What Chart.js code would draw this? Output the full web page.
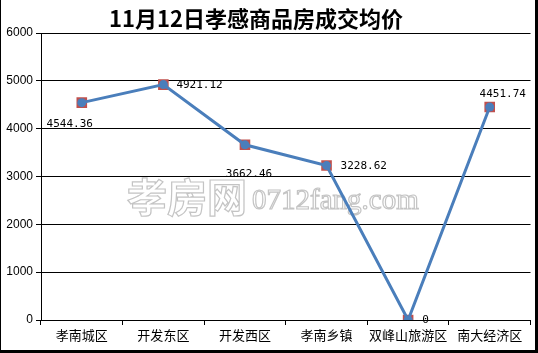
<!DOCTYPE html>
<html>
<head>
<meta charset="utf-8">
<script src="https://cdn.jsdelivr.net/npm/chart.js@4/dist/chart.umd.min.js"></script>
<style>
html,body{margin:0;padding:0;background:#fff;}
#wrap{width:538px;height:353px;position:relative;}
</style>
</head>
<body>
<div id="wrap"><canvas id="c" width="538" height="353"></canvas></div>
<script>
// ---- data ----
const categories = ['孝南城区', '开发东区', '开发西区', '孝南乡镇', '双峰山旅游区', '南大经济区'];
const avgPrice = [4544.36, 4921.12, 3662.46, 3228.62, 0, 4451.74];
const priceLabels = ['4544.36', '4921.12', '3662.46', '3228.62', '0', '4451.74'];
const yTicks = [0, 1000, 2000, 3000, 4000, 5000, 6000];
const titleText = '11月12日孝感商品房成交均价';

// label placement relative to each point (style, not data)
const labelPlacement = [
  {dx: -12, dy: 22, align: 'center'},
  {dx: 13, dy: 1, align: 'left'},
  {dx: 4, dy: 29, align: 'center'},
  {dx: 14, dy: 1, align: 'left'},
  {dx: 14, dy: 0, align: 'left'},
  {dx: 13, dy: -13, align: 'center'}
];

const framePlugin = {
  id: 'frame',
  beforeDraw(chart) {
    const ctx = chart.ctx;
    ctx.save();
    ctx.fillStyle = '#fff';
    ctx.fillRect(0, 0, chart.width, chart.height);
    ctx.restore();
  },
  beforeDatasetsDraw(chart) {
    const ctx = chart.ctx;
    ctx.save();
    ctx.textBaseline = 'middle';
    ctx.lineWidth = 1.2;
    ctx.strokeStyle = '#c4c4c4';
    ctx.fillStyle = '#ffffff';
    ctx.font = 'bold 40px "Noto Sans CJK SC"';
    ctx.textAlign = 'left';
    ctx.fillText('孝房网', 127, 197);
    ctx.strokeText('孝房网', 127, 197);
    ctx.font = '29px "Liberation Serif"';
    ctx.fillText('0712fang.com', 252, 201);
    ctx.strokeText('0712fang.com', 252, 201);
    ctx.restore();
  },
  afterDraw(chart) {
    const ctx = chart.ctx;
    ctx.save();
    // title
    ctx.fillStyle = '#000';
    ctx.font = 'bold 22px "Noto Sans CJK SC"';
    ctx.textAlign = 'center';
    ctx.textBaseline = 'middle';
    ctx.fillText(titleText, 256, 19);
    // value labels
    const meta = chart.getDatasetMeta(0);
    ctx.font = '11px "DejaVu Sans Mono"';
    meta.data.forEach((pt, i) => {
      const p = labelPlacement[i];
      ctx.textAlign = p.align;
      ctx.fillText(priceLabels[i], pt.x + p.dx, pt.y + p.dy);
    });
    // frame
    ctx.fillStyle = '#000';
    ctx.fillRect(0, 0, 1, chart.height);
    ctx.fillRect(535, 0, 3, chart.height);
    ctx.fillRect(0, 350, chart.width, 3);
    ctx.restore();
  }
};

new Chart(document.getElementById('c'), {
  type: 'line',
  data: {
    labels: categories,
    datasets: [
      {
        data: avgPrice,
        borderColor: '#4a7ebb',
        borderWidth: 3,
        pointStyle: 'circle',
        pointRadius: 4.5,
        pointBackgroundColor: '#4a7ebb',
        pointBorderColor: '#4a7ebb',
        pointBorderWidth: 0,
        tension: 0,
        order: 0
      },
      {
        data: avgPrice,
        showLine: false,
        pointStyle: 'rect',
        pointRadius: 7.5,
        pointBackgroundColor: '#c0504d',
        pointBorderColor: '#c0504d',
        pointBorderWidth: 0,
        order: 1
      }
    ]
  },
  options: {
    responsive: false,
    animation: false,
    devicePixelRatio: 1,
    layout: {padding: {top: 33, right: 5, left: 0, bottom: 0}},
    plugins: {legend: {display: false}, title: {display: false}, tooltip: {enabled: false}},
    scales: {
      x: {
        offset: true,
        afterFit(s) { s.height = 33; },
        grid: {display: true, drawOnChartArea: false, drawTicks: true, tickLength: 5, color: '#000', offset: true},
        border: {display: true, color: '#000', width: 1},
        ticks: {color: '#000', font: {family: '"Noto Sans CJK SC"', size: 13}, padding: 2, maxRotation: 0, autoSkip: false}
      },
      y: {
        min: 0,
        max: 6000,
        afterFit(s) { s.width = 41; },
        afterBuildTicks(s) { s.ticks = yTicks.map(v => ({value: v})); },
        grid: {color: '#000', lineWidth: 1, tickLength: 5, drawTicks: true},
        border: {display: true, color: '#000', width: 1},
        ticks: {color: '#000', font: {family: '"Liberation Sans"', size: 12}, padding: 3, callback: v => String(v)}
      }
    }
  },
  plugins: [framePlugin]
});
</script>
</body>
</html>
